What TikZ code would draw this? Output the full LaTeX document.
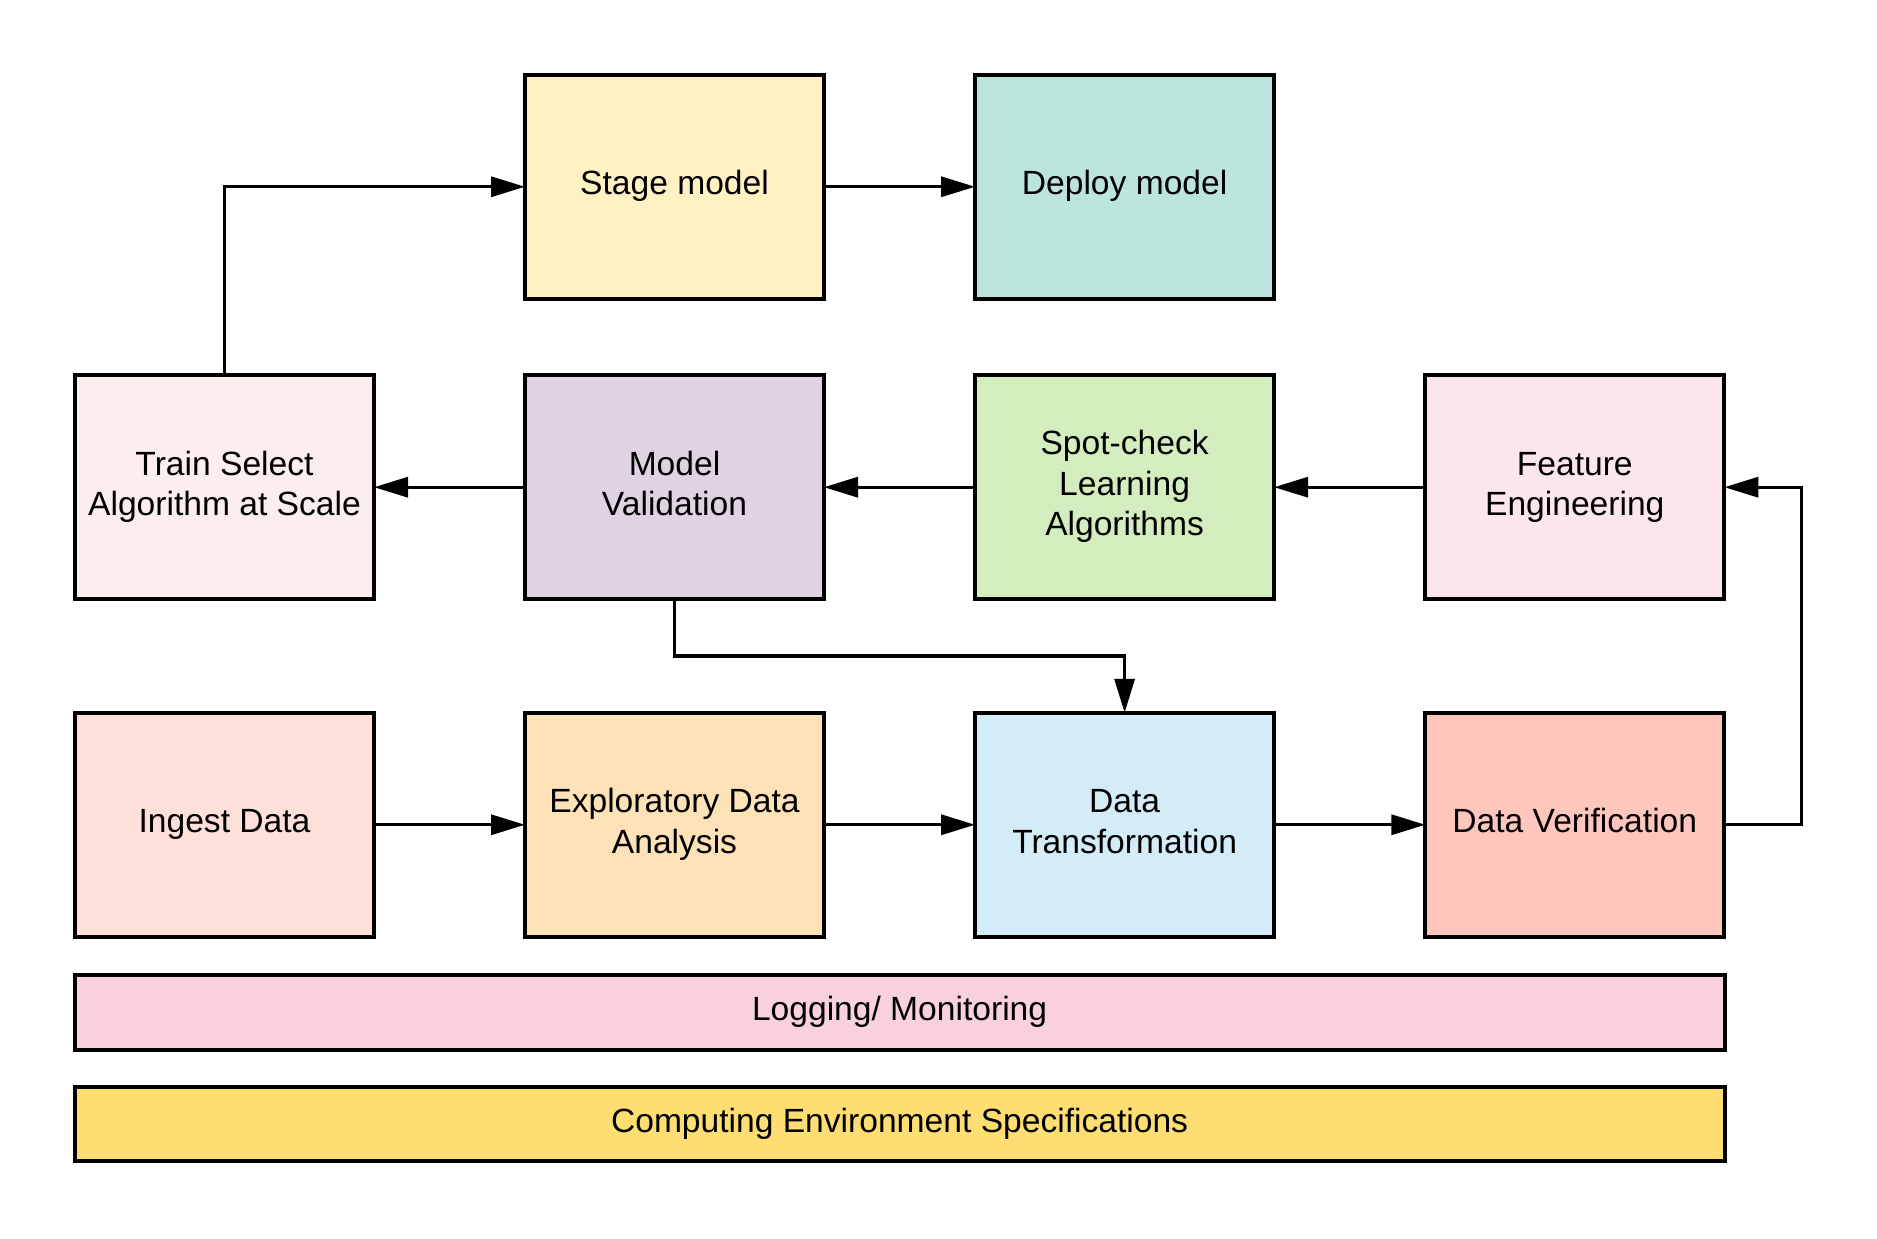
\documentclass[tikz,border=0pt]{standalone}
\usepackage{fontspec}
\setmainfont{Liberation Sans}
\usetikzlibrary{arrows.meta,calc}
\definecolor{cStage}{HTML}{FFF1C2}
\definecolor{cDeploy}{HTML}{BAE4DC}
\definecolor{cTrain}{HTML}{FCEEEC}
\definecolor{cValid}{HTML}{DFD2E1}
\definecolor{cSpot}{HTML}{D4EDBF}
\definecolor{cFeat}{HTML}{FBE6EC}
\definecolor{cIngest}{HTML}{FFDFDA}
\definecolor{cEda}{HTML}{FDE1B7}
\definecolor{cTrans}{HTML}{D4EBF8}
\definecolor{cVerif}{HTML}{FFC6BE}
\definecolor{cLog}{HTML}{F8D1DD}
\definecolor{cComp}{HTML}{FEDE72}
\tikzset{
  box/.style={draw=black, line width=2pt, inner sep=0pt, outer sep=0pt,
    minimum width=149.5pt, minimum height=112pt, align=center,
    font=\fontsize{16.8pt}{20.3pt}\selectfont},
  bar/.style={draw=black, line width=2pt, inner sep=0pt, outer sep=0pt,
    minimum width=825pt, align=center,
    font=\fontsize{16.8pt}{20.3pt}\selectfont},
  conn/.style={line width=1.65pt, -{Triangle[length=17pt,width=10pt]}}
}
\begin{document}
\begin{tikzpicture}[x=0.5pt,y=-0.5pt]
\useasboundingbox (0,0) rectangle (1877,1238);
\node[box, fill=cStage]  (stage)  at (674.5,186.75) {\strut Stage model};
\node[box, fill=cDeploy] (deploy) at (1124.6,186.75) {\strut Deploy model};
\node[box, fill=cTrain]  (train)  at (224.5,487.2) {\strut Train Select\\\strut Algorithm at Scale};
\node[box, fill=cValid]  (valid)  at (674.5,487.2) {\strut Model\\\strut Validation};
\node[box, fill=cSpot]   (spot)   at (1124.6,487.2) {\strut Spot-check\\\strut Learning\\\strut Algorithms};
\node[box, fill=cFeat]   (feat)   at (1574.75,487.2) {\strut Feature\\\strut Engineering};
\node[box, fill=cIngest] (ingest) at (224.5,824.75) {\strut Ingest Data};
\node[box, fill=cEda]    (eda)    at (674.5,824.75) {\strut Exploratory Data\\\strut Analysis};
\node[box, fill=cTrans]  (trans)  at (1124.6,824.75) {\strut Data\\\strut Transformation};
\node[box, fill=cVerif]  (verif)  at (1574.75,824.75) {\strut Data Verification};
\node[bar, fill=cLog, minimum height=37.5pt]  (log)  at (899.6,1012.1) {\strut Logging/ Monitoring};
\node[bar, fill=cComp, minimum height=37pt] (comp) at (899.6,1124) {\strut Computing Environment Specifications};
\coordinate (r) at (1801.5,0);
\coordinate (m) at ($(valid.south)!0.5!(trans.north)$);
\draw[conn] (train.north) |- (stage.west);
\draw[conn] (stage.east) -- (deploy.west);
\draw[conn] (valid.west) -- (train.east);
\draw[conn] (spot.west) -- (valid.east);
\draw[conn] (feat.west) -- (spot.east);
\draw[conn] (valid.south) -- (valid.south |- m) -| (trans.north);
\draw[conn] (ingest.east) -- (eda.west);
\draw[conn] (eda.east) -- (trans.west);
\draw[conn] (trans.east) -- (verif.west);
\draw[conn] (verif.east) -- (verif.east -| r) |- (feat.east);
\end{tikzpicture}
\end{document}
